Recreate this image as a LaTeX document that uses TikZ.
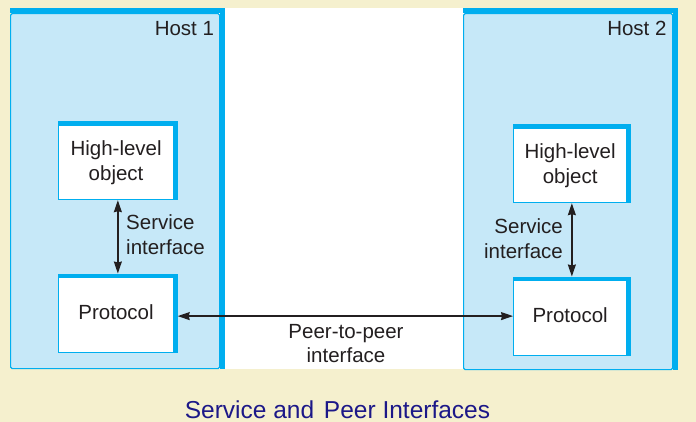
\documentclass[tikz,border=0pt]{standalone}
\usepackage{fontspec}
\setmainfont{Liberation Sans}
\usetikzlibrary{arrows.meta}
\definecolor{creambg}{HTML}{F5F0CE}
\definecolor{cyanb}{HTML}{00AEEF}
\definecolor{hostfill}{HTML}{C6E8F8}
\definecolor{inkc}{HTML}{231F20}
\definecolor{capc}{HTML}{1C1888}
\begin{document}
\begin{tikzpicture}[x=1pt,y=-1pt,
  every node/.style={text=inkc, font=\fontsize{20.5}{24.5}\selectfont},
  hostbox/.style={draw=cyanb, line width=1.2pt, fill=hostfill, anchor=north west, inner sep=0pt, rounded corners=1.5pt},
  innerbox/.style={draw=cyanb, line width=1.2pt, fill=white, anchor=north west, inner sep=0pt, align=center},
  hostshadow/.style={draw=cyanb, line width=5pt},
  innershadow/.style={draw=cyanb, line width=3.5pt},
  conn/.style={draw=inkc, line width=1.3pt, {Stealth[length=12pt,width=8pt,inset=1pt]}-{Stealth[length=12pt,width=8pt,inset=1pt]}},
  lbl/.style={inner sep=0pt}
]
\useasboundingbox (0,0) rectangle (696,422);
\fill[creambg] (0,0) rectangle (696,422);
\fill[white] (215,8) rectangle (470,369);

% Host 1
\node[hostbox, minimum width=209pt, minimum height=355pt] (host1) at (10,13) {};
\draw[hostshadow] ([yshift=2.5pt]host1.north west) -| ([xshift=2.5pt]host1.south east);
\node[lbl, anchor=base east] (h1lbl) at ([xshift=-6pt,yshift=-23pt]host1.north east) {Host 1};

% Host 2
\node[hostbox, minimum width=209pt, minimum height=356pt] (host2) at (463,13) {};
\draw[hostshadow] ([yshift=2.5pt]host2.north west) -| ([xshift=2.5pt]host2.south east);
\node[lbl, anchor=base east] (h2lbl) at ([xshift=-6.5pt,yshift=-23pt]host2.north east) {Host 2};

% Inner boxes host 1
\node[innerbox, minimum width=115pt, minimum height=74pt] (hlo1) at (58,125) {High-level\\object};
\draw[innershadow] ([yshift=1.75pt]hlo1.north west) -| ([xshift=1.75pt]hlo1.south east);
\node[innerbox, minimum width=115pt, minimum height=75pt, text depth=6pt] (pro1) at (58,277) {Protocol};
\draw[innershadow] ([yshift=1.75pt]pro1.north west) -| ([xshift=1.75pt]pro1.south east);

% Inner boxes host 2
\node[innerbox, minimum width=113pt, minimum height=74pt] (hlo2) at (513,128) {High-level\\object};
\draw[innershadow] ([yshift=1.75pt]hlo2.north west) -| ([xshift=1.75pt]hlo2.south east);
\node[innerbox, minimum width=113pt, minimum height=75pt, text depth=6pt] (pro2) at (513,280) {Protocol};
\draw[innershadow] ([yshift=1.75pt]pro2.north west) -| ([xshift=1.75pt]pro2.south east);

% Service interfaces
\draw[conn] ([xshift=1.75pt]hlo1.south) -- ([xshift=1.75pt,yshift=3.5pt]pro1.north);
\node[lbl, anchor=west, align=left] (si1) at (126,234.5) {Service\\interface};
\draw[conn] ([xshift=1.75pt]hlo2.south) -- ([xshift=1.75pt,yshift=3.5pt]pro2.north);
\node[lbl, anchor=east, align=right] (si2) at (563,238.5) {Service\\interface};

% Peer-to-peer
\coordinate (pL) at ([xshift=3.5pt,yshift=-1pt]pro1.east);
\coordinate (pR) at (pro2.west |- pL);
\draw[conn] (pL) -- (pR);
\node[lbl, align=center] (p2p) at (346,343.6) {Peer-to-peer\\interface};

% Caption
\node[lbl, text=capc, font=\fontsize{24.5}{29}\selectfont, anchor=base] (cap) at (337.5,418) {Service and\hspace{3pt} Peer Interfaces};
\end{tikzpicture}
\end{document}
